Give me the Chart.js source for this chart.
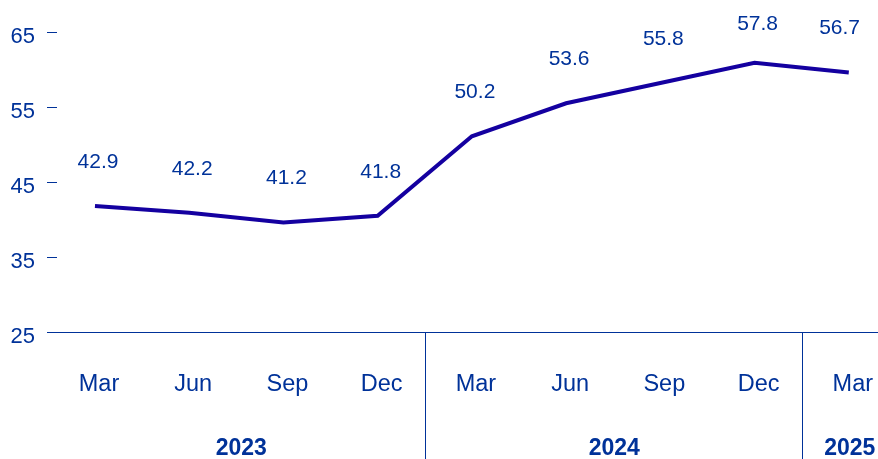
<!DOCTYPE html>
<html>
<head>
<meta charset="utf-8">
<script src="https://cdn.jsdelivr.net/npm/chart.js@4/dist/chart.umd.min.js"></script>
<style>
  html, body { margin: 0; padding: 0; background: #fff; overflow: hidden; }
  #wrap { width: 878px; height: 459px; position: relative; }
</style>
</head>
<body>
<div id="wrap"><canvas id="grafico"></canvas></div>
<script>
// Datos: trimestres, año de cada trimestre, valores de la línea y etiquetas mostradas.
var meses = ['Mar', 'Jun', 'Sep', 'Dec', 'Mar', 'Jun', 'Sep', 'Dec', 'Mar'];
var anioDe = ['2023', '2023', '2023', '2023', '2024', '2024', '2024', '2024', '2025'];
var valores = [41.8, 40.9, 39.6, 40.5, 51.1, 55.5, 58.2, 60.9, 59.6];
var etiquetas = ['42.9', '42.2', '41.2', '41.8', '50.2', '53.6', '55.8', '57.8', '56.7'];
var ticksY = [25, 35, 45, 55, 65];

var AZUL = '#003299';
var LINEA = '#1400a0';
var FUENTE = "'Liberation Sans', Arial, sans-serif";

// Grupos de años: centro (promedio de índices) y límites entre grupos.
var anios = [];
anioDe.forEach(function (a) { if (anios.indexOf(a) < 0) anios.push(a); });
function indicesDe(a) { var r = []; anioDe.forEach(function (x, i) { if (x === a) r.push(i); }); return r; }

var pluginExtras = {
  id: 'extras',
  afterDraw: function (chart) {
    var ctx = chart.ctx, xs = chart.scales.x, ys = chart.scales.y, area = chart.chartArea;
    ctx.save();

    // separadores verticales bajo el eje entre años
    ctx.strokeStyle = AZUL;
    ctx.lineWidth = 1;
    for (var k = 1; k < anios.length; k++) {
      var ini = indicesDe(anios[k])[0];
      var px = Math.round(xs.getPixelForValue(ini - 0.5)) + 0.5;
      ctx.beginPath();
      ctx.moveTo(px, area.bottom);
      ctx.lineTo(px, chart.height);
      ctx.stroke();
    }

    // años en negrita
    ctx.fillStyle = AZUL;
    ctx.textAlign = 'center';
    ctx.textBaseline = 'middle';
    ctx.font = 'bold 23px ' + FUENTE;
    anios.forEach(function (a) {
      var idx = indicesDe(a);
      var c = idx.reduce(function (s, v) { return s + v; }, 0) / idx.length;
      ctx.fillText(a, xs.getPixelForValue(c) + (c < 2 ? 5 : 1), 449);
    });

    // etiquetas de valor sobre la línea
    ctx.font = '21px ' + FUENTE;
    etiquetas.forEach(function (t, i) {
      var w = ctx.measureText(t).width;
      var x = Math.min(xs.getPixelForValue(i) + 3, area.right - 18 - w / 2);
      var y = Math.max(ys.getPixelForValue(valores[i]) - 44, 24);
      ctx.fillText(t, x, y);
    });
    ctx.restore();
  }
};

new Chart(document.getElementById('grafico').getContext('2d'), {
  type: 'line',
  data: {
    datasets: [{
      data: valores.map(function (v, i) { return { x: i, y: v }; }),
      borderColor: LINEA,
      borderWidth: 4,
      pointRadius: 0,
      tension: 0,
      fill: false
    }]
  },
  options: {
    responsive: true,
    maintainAspectRatio: false,
    animation: false,
    layout: { padding: { top: 32, right: 0, left: 0, bottom: 0 } },
    plugins: { legend: { display: false }, tooltip: { enabled: false } },
    scales: {
      x: {
        type: 'linear',
        min: -0.403,
        max: 8.31,
        afterBuildTicks: function (s) { s.ticks = meses.map(function (m, i) { return { value: i }; }); },
        afterFit: function (s) { s.height = 127; s.paddingLeft = 0; s.paddingRight = 0; },
        grid: { display: false, drawTicks: false },
        border: { display: true, color: AZUL, width: 1 },
        ticks: {
          padding: 38,
          labelOffset: 4,
          maxRotation: 0,
          autoSkip: false,
          color: AZUL,
          font: { family: FUENTE, size: 23.5 },
          callback: function (v) { return meses[v]; }
        }
      },
      y: {
        min: 25,
        max: 65,
        afterBuildTicks: function (s) { s.ticks = ticksY.map(function (v) { return { value: v }; }); },
        afterFit: function (s) { s.width = 57; },
        grid: { display: true, drawOnChartArea: false, drawTicks: true, tickLength: 10, color: AZUL, lineWidth: 1 },
        border: { display: false },
        ticks: {
          padding: 12,
          labelOffset: 5,
          color: AZUL,
          font: { family: FUENTE, size: 22 }
        }
      }
    }
  },
  plugins: [pluginExtras]
});
</script>
</body>
</html>
